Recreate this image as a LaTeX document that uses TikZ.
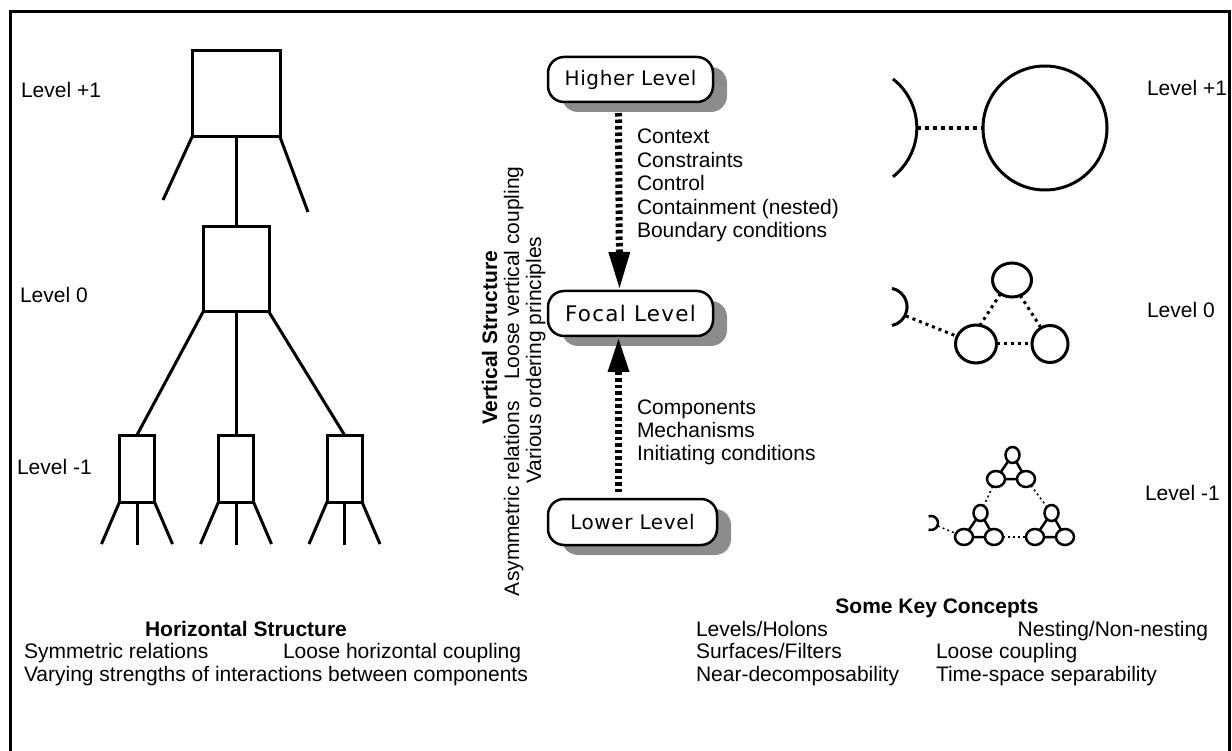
\documentclass[tikz,border=0pt]{standalone}
\usepackage{fontspec}
\setmainfont{Liberation Sans}
\newfontfamily\boxfont{DejaVu Sans}[LetterSpace=3]
\newfontfamily\focalfont{DejaVu Sans}[LetterSpace=6]
\usetikzlibrary{shapes.geometric,shadows,arrows.meta,calc}
\definecolor{shgray}{gray}{0.55}
\begin{document}
\begin{tikzpicture}[x=1pt,y=-1pt,
  every node/.style={inner sep=0pt, outer sep=0pt},
  txt/.style={font=\fontsize{21}{24}\selectfont},
  btxt/.style={font=\fontsize{21}{24}\selectfont\bfseries},
  tbox/.style={draw, line width=3pt, rectangle},
  tline/.style={line width=3pt},
  lvbox/.style={draw, line width=2.5pt, rounded corners=16pt, fill=white,
    minimum width=165pt, minimum height=45pt,
    font=\boxfont\fontsize{20}{22}\selectfont,
    drop shadow={shadow xshift=14pt, shadow yshift=-10pt, fill=shgray, opacity=1}},
  vline/.style={line width=7pt, dash pattern=on 3.5pt off 3pt},
  bigc/.style={draw, circle, line width=3pt},
  midc/.style={draw, ellipse, line width=3pt},
  sc/.style={draw, ellipse, line width=2.5pt},
  dotA/.style={line width=4pt, dash pattern=on 4pt off 4pt},
  dotB/.style={line width=3pt, dash pattern=on 3pt off 4pt},
  dotC/.style={line width=1.5pt, dash pattern=on 2pt off 3pt},
  triad/.pic={
    \node[sc, minimum width=14pt, minimum height=16pt] (-t) at (1.5,-24) {};
    \node[sc, minimum width=18pt, minimum height=16pt] (-l) at (-15,0) {};
    \node[sc, minimum width=18pt, minimum height=16pt] (-r) at (15,0) {};
    \draw[line width=2.5pt] (-t) -- (-l) (-t) -- (-r) (-l) -- (-r);
  }
]
\useasboundingbox (0,0) rectangle (1232,751);
% frame
\draw[line width=3pt] (10.5,760) -- (10.5,12) -- (1229,12) -- (1229,760);

% ---------- left tree ----------
\node[txt, anchor=base west] (lp1) at (21,98) {Level +1};
\node[txt, anchor=base west] (l0) at (20,303) {Level 0};
\node[txt, anchor=base west] (lm1) at (17,474) {Level -1};

\node[tbox, minimum width=88pt, minimum height=86pt] (b1) at (236,94) {};
\node[tbox, minimum width=66pt, minimum height=85pt] (b0) at (236,269.5) {};
\node[tbox, minimum width=35pt, minimum height=67pt] (m1) at (137,468.5) {};
\node[tbox, minimum width=35pt, minimum height=67pt] (m2) at (236,468.5) {};
\node[tbox, minimum width=35pt, minimum height=67pt] (m3) at (344.5,468.5) {};
\coordinate (e1) at (163,200);
\coordinate (e2) at (308,212);
\draw[tline] (b1.south west) -- (e1);
\draw[tline] (b1.south east) -- (e2);
\draw[tline] (b1) -- (b0);
\draw[tline] (b0.south west) -- (m1.north);
\draw[tline] (b0.south) -- (m2.north);
\draw[tline] (b0.south east) -- (m3.north);
\foreach \m in {m1,m2,m3}{
  \draw[tline] (\m.south west) -- ++(-18,42);
  \draw[tline] (\m.south) -- ++(0,43);
  \draw[tline] (\m.south east) -- ++(18,42);
}

% ---------- middle ----------
\node[lvbox] (hi) at (630.5,79.5) {Higher Level};
\node[lvbox, font=\focalfont\fontsize{21.5}{23}\selectfont] (fo) at (630.5,313.5) {Focal Level};
\node[lvbox, minimum width=169pt, minimum height=46pt] (lo) at (632.5,522) {Lower Level};

\draw[vline, -{Triangle[width=22pt,length=36pt,line width=0pt]}]
  ($(hi.south)+(-12,11)$) -- ($(fo.north)+(-11,-3)$);
\draw[vline, -{Triangle[width=22pt,length=33pt,line width=0pt]}]
  ($(lo.north)+(-14,-7)$) -- ($(fo.south)+(-12,3)$);

\node[txt, anchor=base west] (c1) at (637,144) {Context};
\node[txt, anchor=base west] (c2) at (637,167.5) {Constraints};
\node[txt, anchor=base west] (c3) at (637,191) {Control};
\node[txt, anchor=base west] (c4) at (637,214.5) {Containment (nested)};
\node[txt, anchor=base west] (c5) at (637,238) {Boundary conditions};

\node[txt, anchor=base west] (d1) at (637,414) {Components};
\node[txt, anchor=base west] (d2) at (637,437) {Mechanisms};
\node[txt, anchor=base west] (d3) at (637,460) {Initiating conditions};

\node[btxt, rotate=90, anchor=base] (vs) at (497,338) {Vertical Structure};
\node[txt, rotate=90, anchor=base west] (asy) at (519,596) {Asymmetric relations};
\node[txt, rotate=90, anchor=base west] (lvc) at (519,380) {Loose vertical coupling};
\node[txt, rotate=90, anchor=base] (vop) at (541,360) {Various ordering principles};

% ---------- right ----------
\node[txt, anchor=base west] (rp1) at (1147,96) {Level +1};
\node[txt, anchor=base west] (r0) at (1147,318) {Level 0};
\node[txt, anchor=base west] (rm1) at (1145,500) {Level -1};

% level +1
\node[bigc, minimum size=124pt] (C1) at (1045,128) {};
\draw[line width=3pt] (893,79) arc[start angle=52, end angle=-52, radius=62pt];
\coordinate (A1) at (917,128);
\draw[dotA] (A1) -- (C1.west);

% level 0
\node[midc, minimum width=39pt, minimum height=34pt] (c0t) at (1012,280) {};
\node[midc, minimum width=41pt, minimum height=38pt] (c0a) at (976,344) {};
\node[midc, minimum width=36pt, minimum height=37pt] (c0b) at (1050,344) {};
\draw[line width=3pt] (892,288.4) arc[start angle=78, end angle=-78, radius=19pt];
\coordinate (A0) at (906,316);
\draw[dotB] (c0t.230) -- (c0a.78);
\draw[dotB] (c0t.298) -- (c0b.119);
\draw[dotB] (c0a.east) -- (c0b.west);
\draw[dotB] (A0) -- (c0a.158);

% level -1
\pic (ta) at (1011,479) {triad};
\pic (tb) at (979,537) {triad};
\pic (tc) at (1050,537) {triad};
\draw[line width=2.5pt] (928.6,516.4) arc[start angle=110, end angle=-110, radius=7pt];
\coordinate (Am) at (938,526);
\draw[dotC] (ta-l) -- (tb-t);
\draw[dotC] (ta-r) -- (tc-t);
\draw[dotC] (tb-r) -- (tc-l);
\draw[dotC] (Am) -- (tb-l);

% ---------- bottom texts ----------
\node[btxt, anchor=base] (hs) at (246,636) {Horizontal Structure};
\node[txt, anchor=base west] (h1) at (24,658) {Symmetric relations};
\node[txt, anchor=base west] (h2) at (283,658) {Loose horizontal coupling};
\node[txt, anchor=base west] (h3) at (24,681) {Varying strengths of interactions between components};

\node[btxt, anchor=base] (kc) at (937,613) {Some Key Concepts};
\node[txt, anchor=base west] (k1) at (696,636) {Levels/Holons};
\node[txt, anchor=base east] (k2) at (1208,636) {Nesting/Non-nesting};
\node[txt, anchor=base west] (k3) at (696,658) {Surfaces/Filters};
\node[txt, anchor=base west] (k4) at (936,658) {Loose coupling};
\node[txt, anchor=base west] (k5) at (696,681) {Near-decomposability};
\node[txt, anchor=base west] (k6) at (936,681) {Time-space separability};
\end{tikzpicture}
\end{document}
